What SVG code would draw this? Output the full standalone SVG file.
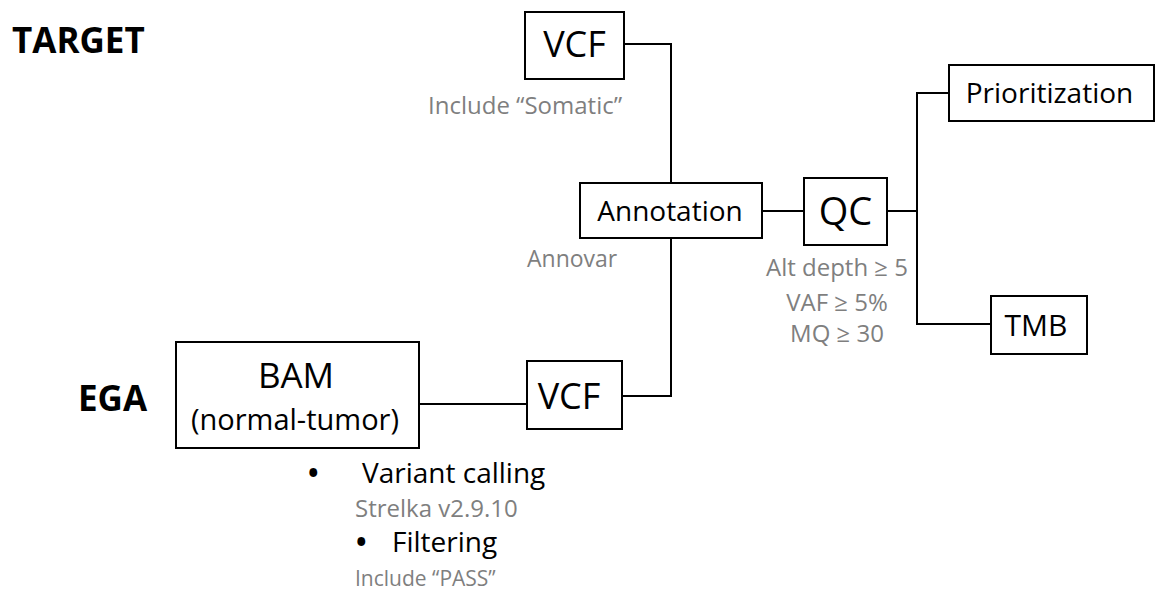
<svg xmlns="http://www.w3.org/2000/svg" width="1161" height="595" viewBox="0 0 1161 595">
  <style>
    .box { fill: #ffffff; stroke: #000000; stroke-width: 2; }
    .wire { fill: none; stroke: #000000; stroke-width: 2; }
    text { font-family: "Open Sans", "Noto Sans", "Liberation Sans", sans-serif; }
    .lbl { fill: #000000; text-anchor: middle; }
    .note { fill: #7f7f7f; }
    .head { fill: #000000; font-weight: bold; font-size: 35px; }
    .step { fill: #000000; font-size: 28px; }
    .dot { font-weight: bold; }
  </style>

  <rect width="1161" height="595" fill="#ffffff"/>

  <!-- Section headings -->
  <text class="head" x="12" y="53">TARGET</text>
  <text class="head" x="78" y="411">EGA</text>

  <!-- Connectors -->
  <g id="connectors">
    <polyline class="wire" points="624,44 671,44 671,183"/>
    <polyline class="wire" points="622,396 671,396 671,238"/>
    <line class="wire" x1="762" y1="211" x2="804" y2="211"/>
    <line class="wire" x1="887" y1="211" x2="917" y2="211"/>
    <polyline class="wire" points="949,93 917,93 917,324 991,324"/>
    <line class="wire" x1="419" y1="404" x2="527" y2="404"/>
  </g>

  <!-- Nodes -->
  <g id="vcf-target">
    <rect class="box" x="525" y="12" width="99" height="67"/>
    <text class="lbl" x="574.5" y="57" font-size="36">VCF</text>
    <text class="note" x="428" y="114" font-size="24">Include “Somatic”</text>
  </g>

  <g id="annotation">
    <rect class="box" x="580" y="183" width="182" height="55"/>
    <text class="lbl" x="670" y="221" font-size="28">Annotation</text>
    <text class="note" x="527" y="267" font-size="23">Annovar</text>
  </g>

  <g id="qc">
    <rect class="box" x="804" y="178" width="83" height="67"/>
    <text class="lbl" x="845.5" y="225" font-size="38">QC</text>
    <text class="note" x="837" y="276" font-size="24" text-anchor="middle">Alt depth ≥ 5</text>
    <text class="note" x="837" y="311" font-size="24" text-anchor="middle">VAF ≥ 5%</text>
    <text class="note" x="837" y="342" font-size="24" text-anchor="middle">MQ ≥ 30</text>
  </g>

  <g id="prioritization">
    <rect class="box" x="949" y="65" width="205" height="56"/>
    <text class="lbl" x="1049.5" y="103" font-size="28">Prioritization</text>
  </g>

  <g id="tmb">
    <rect class="box" x="991" y="296" width="96" height="58"/>
    <text class="lbl" x="1036" y="336" font-size="30">TMB</text>
  </g>

  <g id="bam">
    <rect class="box" x="176" y="342" width="243" height="106"/>
    <text class="lbl" x="296" y="388" font-size="35">BAM</text>
    <text class="lbl" x="295" y="430" font-size="29">(normal-tumor)</text>
  </g>

  <g id="vcf-ega">
    <rect class="box" x="527" y="361" width="95" height="68"/>
    <text class="lbl" x="569" y="409" font-size="36">VCF</text>
  </g>

  <!-- Variant-calling steps under the BAM box -->
  <g id="calling-steps">
    <text class="step" x="308" y="483"><tspan class="dot">•</tspan><tspan x="362">Variant calling</tspan></text>
    <text class="note" x="355" y="517" font-size="24">Strelka v2.9.10</text>
    <text class="step" x="356" y="552"><tspan class="dot">•</tspan><tspan x="392">Filtering</tspan></text>
    <text class="note" x="355" y="586" font-size="21">Include “PASS”</text>
  </g>
</svg>
